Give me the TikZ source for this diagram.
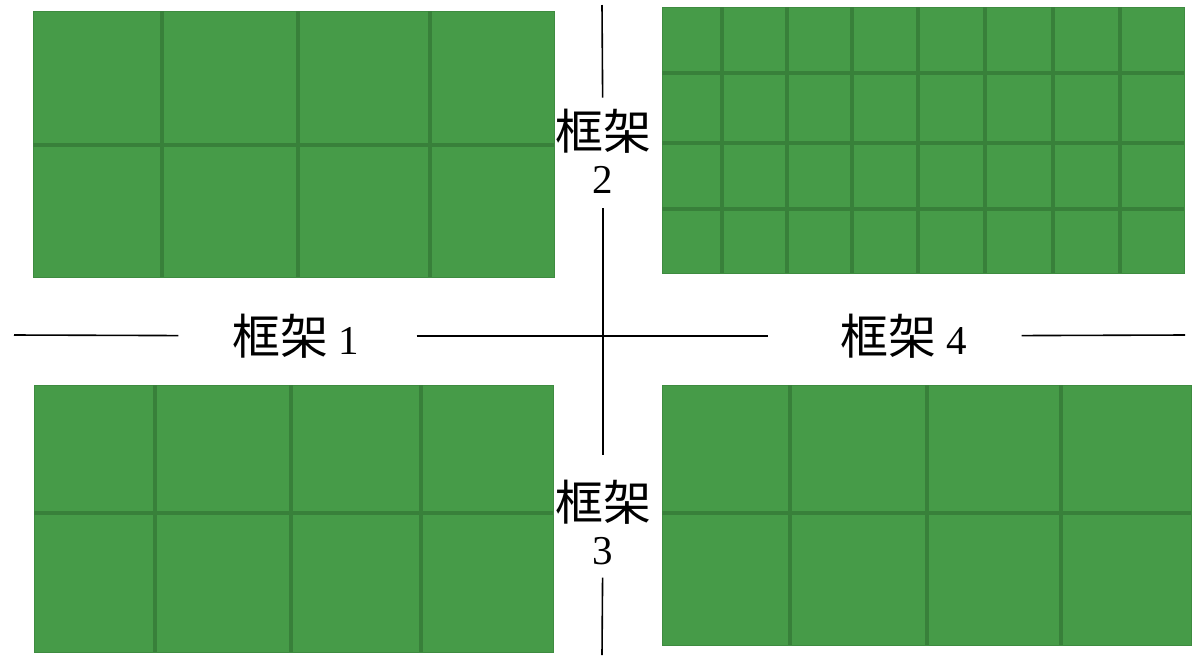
\documentclass[tikz,border=0pt]{standalone}
\usepackage{fontspec}
\setmainfont{Liberation Serif}
\newfontfamily\cjk{Noto Sans CJK SC}
\usetikzlibrary{positioning}
\definecolor{framegreen}{RGB}{70,155,72}
\definecolor{gridgreen}{RGB}{56,128,58}
\newcommand{\kj}{{\cjk\fontsize{48}{50}\selectfont 框架}}

\tikzset{
  panel/.style={fill=framegreen, draw=gridgreen!60!framegreen, line width=1pt},
  gridline/.style={gridgreen, line width=4pt},
  axisline/.style={black, line width=1.6pt},
  framelabel/.style={font=\fontsize{41}{44}\selectfont, inner sep=0pt, align=center}
}

\begin{document}
\begin{tikzpicture}[x=1pt,y=-1pt]
\useasboundingbox (0,0) rectangle (1200,657);

% panel top left
\draw[panel] (33,11) rectangle (554,277);
\foreach \x in {162,298,430} \draw[gridline] (\x,11) -- (\x,277);
\draw[gridline] (33,145) -- (554,145);

% panel top right
\draw[panel] (662,7) rectangle (1184,273);
\foreach \x in {722,787,852,918,985,1053,1120} \draw[gridline] (\x,7) -- (\x,273);
\foreach \y in {73,143,209} \draw[gridline] (662,\y) -- (1184,\y);

% panel bottom left
\draw[panel] (34,385) rectangle (553,652);
\foreach \x in {155,291,421} \draw[gridline] (\x,385) -- (\x,652);
\draw[gridline] (34,513) -- (553,513);

% panel bottom right
\draw[panel] (662,385) rectangle (1191,645);
\foreach \x in {790,927,1061} \draw[gridline] (\x,385) -- (\x,645);
\draw[gridline] (662,513) -- (1191,513);

% labels
\node[framelabel] (f1) at (296,336) {\kj{} 1};
\node[framelabel] (f4) at (904,336) {\kj{} 4};
\node[framelabel] (f2) at (603,151) {\kj\\2};
\node[framelabel] (f3) at (603,522) {\kj\\3};

\coordinate (hl) at (14,335);
\coordinate (hr) at (1185,335);
\coordinate (vt) at (602,5);
\coordinate (vb) at (602,655);

% dividing lines
\draw[axisline, shorten >=54pt] (hl) -- (f1);
\draw[axisline, shorten <=57pt, shorten >=72pt] (f1) -- (f4);
\draw[axisline, shorten <=54pt] (f4) -- (hr);
\draw[axisline, shorten >=11pt] (vt) -- (f2);
\draw[axisline, shorten <=15pt, shorten >=24pt] (f2) -- (f3);
\draw[axisline, shorten <=13pt] (f3) -- (vb);
\end{tikzpicture}
\end{document}
